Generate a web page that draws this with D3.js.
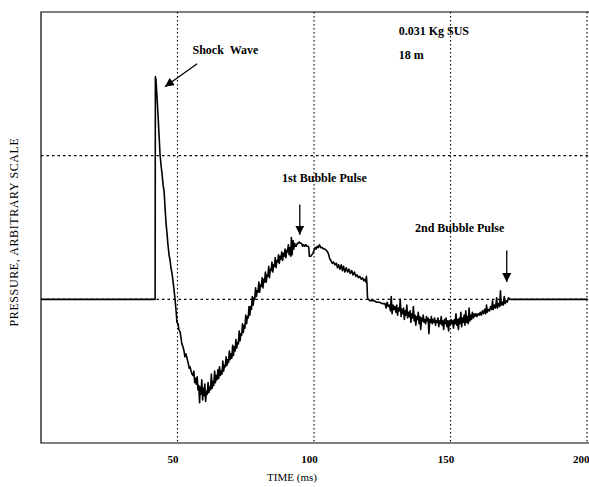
<!DOCTYPE html>
<html>
<head>
<meta charset="utf-8">
<script src="https://cdn.jsdelivr.net/npm/d3@7"></script>
<style>
  html, body { margin: 0; padding: 0; background: #fff; }
  svg { display: block; }
  text { font-family: "Liberation Serif", "DejaVu Serif", serif; fill: #000; }
</style>
</head>
<body>
<svg id="chart" width="589" height="487"></svg>
<script>
// Time axis (ms) and pressure axis (arbitrary units)
const xTicks = [50, 100, 150, 200];
const xGrid = [50, 100, 150, 200];
const yGrid = [0, 1];

// Pressure record: [time ms, pressure]
const shockPulse = [
  [0, 0], [41.8, 0], [41.9, 1.55], [42.1, 1.53], [42.4, 1.44], [42.9, 1.27], [43.3, 1.12],
  [43.6, 1.01], [44.0, 0.93], [44.3, 0.88], [44.7, 0.80], [45.1, 0.75], [45.5, 0.62],
  [45.8, 0.53], [46.2, 0.45], [46.5, 0.38], [46.9, 0.31], [47.3, 0.27], [47.6, 0.22],
  [48.0, 0.18], [48.4, 0.12], [48.7, 0.07], [49.1, 0.0]
];

const rebound = [
  [49.4, -0.06], [49.8, -0.16], [50.2, -0.17], [50.5, -0.21], [51.0, -0.23], [51.6, -0.31],
  [52.0, -0.33], [52.4, -0.36], [52.7, -0.40], [53.1, -0.38], [53.5, -0.41], [54.0, -0.45],
  [54.3, -0.48], [54.6, -0.47], [55.0, -0.50], [55.3, -0.52], [55.7, -0.53], [56.0, -0.50],
  [56.3, -0.58], [56.6, -0.55], [56.9, -0.59], [57.2, -0.54], [57.5, -0.63], [57.8, -0.60],
  [58.1, -0.72], [58.3, -0.61], [58.6, -0.66], [58.9, -0.56], [59.2, -0.70], [59.4, -0.62],
  [59.7, -0.67], [60.0, -0.59], [60.3, -0.71], [60.6, -0.64], [60.9, -0.66], [61.2, -0.58],
  [61.5, -0.65], [61.8, -0.61], [62.1, -0.63], [62.4, -0.52], [62.7, -0.62], [63.0, -0.57],
  [63.3, -0.60], [63.6, -0.50], [63.9, -0.58], [64.2, -0.53], [64.5, -0.56], [64.8, -0.49],
  [65.1, -0.55], [65.4, -0.47], [65.7, -0.53], [66.0, -0.50], [66.3, -0.52], [66.6, -0.43],
  [66.9, -0.50], [67.2, -0.46], [67.5, -0.47], [67.8, -0.40], [68.1, -0.46], [68.4, -0.42],
  [68.7, -0.44], [69.0, -0.36], [69.3, -0.42], [69.6, -0.38], [69.9, -0.41], [70.2, -0.32],
  [70.5, -0.39], [70.8, -0.33], [71.1, -0.36], [71.4, -0.28], [71.7, -0.34], [72.0, -0.30],
  [72.3, -0.31], [72.6, -0.22], [72.9, -0.29], [73.2, -0.24], [73.5, -0.25], [73.8, -0.17],
  [74.1, -0.23], [74.4, -0.18], [74.7, -0.20], [75.0, -0.11], [75.3, -0.17], [75.6, -0.12],
  [75.9, -0.13], [76.2, -0.05], [76.5, -0.11], [76.8, -0.05], [77.1, -0.07], [77.4, 0.02],
  [77.7, -0.04], [78.0, 0.01], [78.3, 0.0], [78.6, 0.08], [78.9, 0.02], [79.2, 0.06],
  [79.5, 0.05], [79.8, 0.12], [80.1, 0.05], [80.4, 0.10], [80.7, 0.09], [81.0, 0.15],
  [81.3, 0.08], [81.6, 0.14], [81.9, 0.12], [82.2, 0.19], [82.5, 0.12], [82.8, 0.17],
  [83.1, 0.16], [83.4, 0.23], [83.7, 0.15], [84.0, 0.21], [84.3, 0.20], [84.6, 0.26],
  [84.9, 0.19], [85.2, 0.24], [85.5, 0.23], [85.8, 0.29], [86.1, 0.22], [86.4, 0.27],
  [86.7, 0.26], [87.0, 0.31], [87.3, 0.25], [87.6, 0.30], [87.9, 0.28], [88.2, 0.33],
  [88.5, 0.27], [88.8, 0.32], [89.1, 0.30], [89.4, 0.35], [89.7, 0.29], [90.0, 0.34],
  [90.3, 0.33], [90.6, 0.38], [90.9, 0.31], [91.2, 0.36], [91.5, 0.30], [91.7, 0.43],
  [92.0, 0.31], [92.3, 0.41], [92.6, 0.35], [92.9, 0.39], [93.2, 0.37]
];

const firstBubble = [
  [93.5, 0.37], [93.9, 0.39], [94.3, 0.39], [94.6, 0.40], [95.0, 0.39], [95.4, 0.39],
  [95.8, 0.37], [96.2, 0.38], [96.6, 0.37], [97.0, 0.38], [97.4, 0.37], [97.8, 0.37],
  [98.1, 0.36], [98.3, 0.30], [98.8, 0.30], [99.2, 0.31], [99.6, 0.32], [100.0, 0.34],
  [100.4, 0.36], [100.8, 0.35], [101.2, 0.37], [101.6, 0.36], [102.0, 0.38], [102.5, 0.36],
  [103.0, 0.36], [103.5, 0.35], [104.0, 0.35], [104.5, 0.34], [105.0, 0.33], [105.4, 0.31],
  [105.8, 0.28], [106.2, 0.27], [106.7, 0.25], [107.2, 0.26], [107.7, 0.24], [108.2, 0.25],
  [108.6, 0.22], [109.0, 0.24], [109.5, 0.21], [110.0, 0.24], [110.4, 0.20], [110.8, 0.23],
  [111.3, 0.19], [111.8, 0.22], [112.3, 0.19], [112.8, 0.21], [113.3, 0.18], [113.8, 0.20],
  [114.3, 0.17], [114.8, 0.19], [115.3, 0.16], [115.8, 0.17], [116.3, 0.15], [116.8, 0.16],
  [117.3, 0.14], [117.8, 0.15], [118.2, 0.13], [118.7, 0.14], [119.0, 0.12], [119.2, 0.16],
  [119.4, 0.11], [119.6, 0.01], [120.0, 0.0], [120.5, -0.01]
];

const secondBubble = [
  [121.2, -0.01], [122.0, -0.01], [123.0, -0.02], [124.0, -0.02], [125.0, -0.03],
  [126.0, -0.03], [126.4, -0.06], [126.8, -0.02], [127.2, -0.05], [127.6, -0.04], [128.0, -0.08],
  [128.3, 0.02], [128.6, -0.10], [129.0, -0.04], [129.3, -0.07], [129.6, -0.05], [130.0, -0.09],
  [130.3, -0.04], [130.6, -0.11], [131.0, -0.06], [131.3, -0.08], [131.6, 0.0], [131.9, -0.12],
  [132.2, -0.07], [132.5, -0.10], [132.8, -0.06], [133.1, -0.14], [133.4, -0.08], [133.7, -0.11],
  [134.0, -0.04], [134.3, -0.13], [134.6, -0.09], [134.9, -0.12], [135.2, -0.08], [135.5, -0.16],
  [135.8, -0.10], [136.1, -0.13], [136.4, -0.05], [136.7, -0.15], [137.0, -0.11], [137.3, -0.18],
  [137.6, -0.12], [137.9, -0.14], [138.2, -0.09], [138.5, -0.17], [138.8, -0.12], [139.1, -0.21],
  [139.4, -0.13], [139.7, -0.15], [140.0, -0.11], [140.3, -0.16], [140.6, -0.14], [140.9, -0.17],
  [141.2, -0.12], [141.5, -0.15], [141.8, -0.13], [142.1, -0.24], [142.4, -0.14], [142.7, -0.16],
  [143.0, -0.12], [143.3, -0.17], [143.6, -0.14], [143.9, -0.16], [144.2, -0.13], [144.5, -0.18],
  [144.8, -0.15], [145.1, -0.16], [145.4, -0.13], [145.7, -0.19], [146.0, -0.15], [146.3, -0.17],
  [146.6, -0.12], [146.9, -0.18], [147.2, -0.15], [147.5, -0.21], [147.8, -0.14], [148.1, -0.17],
  [148.4, -0.13], [148.7, -0.19], [149.0, -0.15], [149.3, -0.22], [149.6, -0.15], [149.9, -0.18],
  [150.2, -0.14], [150.5, -0.17], [150.8, -0.15], [151.1, -0.20], [151.4, -0.14], [151.7, -0.17],
  [152.0, -0.10], [152.3, -0.18], [152.6, -0.14], [152.9, -0.21], [153.2, -0.13], [153.5, -0.17],
  [153.8, -0.09], [154.1, -0.19], [154.4, -0.13], [154.7, -0.16], [155.0, -0.11], [155.3, -0.18],
  [155.6, -0.08], [155.9, -0.16], [156.2, -0.12], [156.5, -0.17], [156.8, -0.06], [157.1, -0.15],
  [157.4, -0.11], [157.7, -0.14], [158.0, -0.09], [158.3, -0.13], [158.6, -0.10], [158.9, -0.12],
  [159.3, -0.10], [159.7, -0.12], [160.1, -0.10], [160.5, -0.11], [160.9, -0.09], [161.3, -0.11],
  [161.7, -0.08], [162.1, -0.10], [162.5, -0.07], [162.9, -0.10], [163.2, -0.04], [163.5, -0.09],
  [163.9, -0.07], [164.3, -0.08], [164.7, -0.05], [165.1, -0.07], [165.4, -0.01], [165.7, -0.07],
  [166.1, -0.04], [166.5, -0.06], [166.9, 0.01], [167.2, -0.06], [167.6, -0.03], [168.0, -0.05],
  [168.3, 0.06], [168.6, -0.04], [169.0, -0.02], [169.3, -0.04], [169.7, 0.02], [170.0, -0.03],
  [170.4, -0.01], [170.8, -0.02], [171.2, 0.01], [171.8, 0.0], [200, 0]
];

const trace = [...shockPulse, ...rebound, ...firstBubble, ...secondBubble];

// Annotation text and pointers: [time, pressure] anchors
const notes = [
  { text: "Shock  Wave", t: 55.5, p: 1.71 },
  { text: "0.031 Kg SUS", t: 131, p: 1.84 },
  { text: "18 m", t: 131, p: 1.67 },
  { text: "1st Bubble Pulse", t: 88.3, p: 0.82 },
  { text: "2nd Bubble Pulse", t: 137, p: 0.47 }
];
const pointers = [
  { from: [57.2, 1.64], to: [45.4, 1.48] },
  { from: [94.8, 0.66], to: [94.8, 0.45] },
  { from: [170.6, 0.34], to: [170.6, 0.12] }
];

const svg = d3.select("#chart");
const x = d3.scaleLinear().domain([0, 200]).range([41, 587]);
const y = d3.scaleLinear().domain([-1, 2]).range([443, 12]);

// dotted grid
svg.append("g").selectAll("line").data(xGrid).join("line")
  .attr("x1", d => x(d)).attr("x2", d => x(d))
  .attr("y1", y(2)).attr("y2", y(-1))
  .attr("stroke", "#000").attr("stroke-width", 1.1)
  .attr("stroke-dasharray", "1.5,2.5");
svg.append("g").selectAll("line").data(yGrid).join("line")
  .attr("x1", x(0)).attr("x2", x(200) + 2)
  .attr("y1", d => y(d)).attr("y2", d => y(d))
  .attr("stroke", "#000").attr("stroke-width", 1.1)
  .attr("stroke-dasharray", "2.5,3");

// frame: left, top, bottom
svg.append("path")
  .attr("d", `M${x(200) + 2},${y(2)} H${x(0)} V${y(-1)} H${x(200) + 2}`)
  .attr("fill", "none").attr("stroke", "#000").attr("stroke-width", 1.2);

// x axis labels
const xAxis = d3.axisBottom(x).tickValues(xTicks).tickSize(0).tickPadding(12);
const gx = svg.append("g").attr("transform", `translate(0,${y(-1)})`).call(xAxis);
gx.select(".domain").remove();
gx.selectAll("text")
  .attr("dx", d => d === 200 ? 0 : -5)
  .attr("text-anchor", d => d === 200 ? "end" : "middle")
  .attr("x", d => d === 200 ? 589 - x(200) : 0)
  .style("font-family", "'Liberation Serif', serif")
  .style("font-size", "11px").style("font-weight", "bold");

svg.append("text")
  .attr("x", 292).attr("y", 481)
  .attr("text-anchor", "middle")
  .style("font-size", "11px")
  .text("TIME (ms)");

svg.append("text")
  .attr("transform", `translate(18,232) rotate(-90)`)
  .attr("text-anchor", "middle")
  .style("font-size", "12px").style("letter-spacing", "0.6px")
  .text("PRESSURE, ARBITRARY SCALE");

// pressure trace
const line = d3.line().x(d => x(d[0])).y(d => y(d[1]));
svg.append("path")
  .datum(trace)
  .attr("d", line)
  .attr("fill", "none")
  .attr("stroke", "#000")
  .attr("stroke-width", 1.6)
  .attr("stroke-linejoin", "round");

// annotations
svg.append("g").selectAll("text").data(notes).join("text")
  .attr("x", d => x(d.t)).attr("y", d => y(d.p))
  .style("font-size", "12px").style("font-weight", "bold")
  .style("white-space", "pre")
  .text(d => d.text);

svg.append("defs").append("marker")
  .attr("id", "head").attr("viewBox", "0 0 10 10")
  .attr("refX", 10).attr("refY", 5)
  .attr("markerWidth", 9).attr("markerHeight", 9)
  .attr("markerUnits", "userSpaceOnUse")
  .attr("orient", "auto")
  .append("path").attr("d", "M0,0 L10,5 L0,10 Z").attr("fill", "#000");

svg.append("g").selectAll("line").data(pointers).join("line")
  .attr("x1", d => x(d.from[0])).attr("y1", d => y(d.from[1]))
  .attr("x2", d => x(d.to[0])).attr("y2", d => y(d.to[1]))
  .attr("stroke", "#000").attr("stroke-width", 1.3)
  .attr("marker-end", "url(#head)");
</script>
</body>
</html>
